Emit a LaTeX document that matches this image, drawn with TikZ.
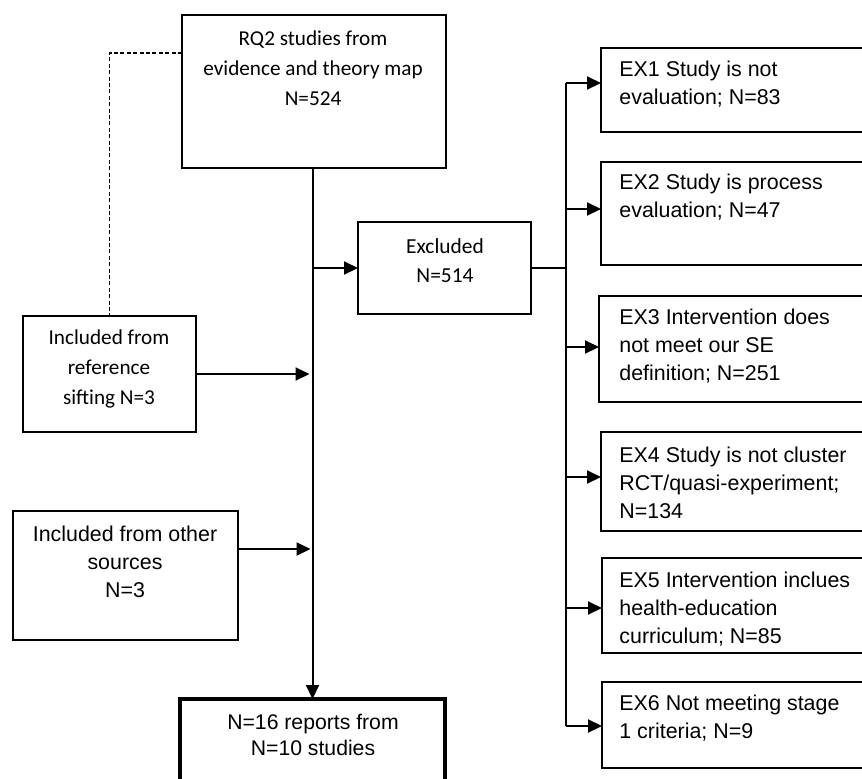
\documentclass[tikz,border=0pt]{standalone}
\usepackage{fontspec}
\newfontfamily\calfont{Carlito}
\newfontfamily\arifont{Liberation Sans}
\usetikzlibrary{arrows.meta,calc}
\begin{document}
\begin{tikzpicture}[x=0.5pt,y=-0.5pt,
  box/.style={draw,line width=0.9pt,inner sep=0pt,outer sep=0pt},
  thickbox/.style={draw,line width=2.4pt,inner sep=0pt,outer sep=0pt},
  caltxt/.style={inner sep=0pt,align=center,font=\calfont\fontsize{10.6}{15}\selectfont},
  aritxt/.style={inner sep=0pt,align=center,font=\arifont\fontsize{10.7}{14}\selectfont},
  extxt/.style={inner sep=0pt,align=left,anchor=west,font=\arifont\fontsize{10.7}{14}\selectfont},
  arr/.style={line width=1pt,-{Triangle[length=7pt,width=6.5pt]}},
  conn/.style={line width=0.8pt}]
\useasboundingbox (0,0) rectangle (862,778);
\fill[white] (0,0) rectangle (862,778);
% boxes
\node[box,minimum width=132pt,minimum height=76.5pt] (rq2) at (314,91.5) {};
\node[box,minimum width=86.5pt,minimum height=46pt] (excl) at (444.5,268) {};
\node[box,minimum width=86.5pt,minimum height=58pt] (sift) at (109.5,374) {};
\node[box,minimum width=112.5pt,minimum height=64.5pt] (other) at (125.5,575.5) {};
\node[thickbox,minimum width=132.5pt,minimum height=45.5pt] (final) at (312.5,744.5) {};
\node[box,minimum width=134.5pt,minimum height=42pt] (ex1) at (735.5,90) {};
\node[box,minimum width=134.5pt,minimum height=51.5pt] (ex2) at (735.5,213.5) {};
\node[box,minimum width=135.5pt,minimum height=53pt] (ex3) at (734.5,349) {};
\node[box,minimum width=134.5pt,minimum height=49.5pt] (ex4) at (735.5,481.5) {};
\node[box,minimum width=134pt,minimum height=47.5pt] (ex5) at (736,605.5) {};
\node[box,minimum width=134pt,minimum height=43pt] (ex6) at (736,725) {};
% texts
\node[caltxt] (rq2t) at (313,68) {RQ2 studies from\\evidence and theory map\\N=524};
\node[caltxt,font=\calfont\fontsize{10.7}{14.5}\selectfont] (exclt) at (445,260.5) {Excluded\\N=514};
\node[caltxt,font=\calfont\fontsize{10.6}{15}\selectfont] (siftt) at (109,369) {Included from\\reference\\sifting N=3};
\node[aritxt] (othert) at (125,562) {Included from other\\sources\\N=3};
\node[aritxt,font=\arifont\fontsize{10.6}{13}\selectfont] (finalt) at (313,735) {N=16 reports from\\N=10 studies};
\node[extxt] (ex1t) at (619,84) {EX1 Study is not\\evaluation; N=83};
\node[extxt] (ex2t) at (619,197) {EX2 Study is process\\evaluation; N=47};
\node[extxt] (ex3t) at (619,346) {EX3 Intervention does\\not meet our SE\\definition; N=251};
\node[extxt] (ex4t) at (619,483) {EX4 Study is not cluster\\RCT/quasi-experiment;\\N=134};
\node[extxt] (ex5t) at (619,609) {EX5 Intervention inclues\\health-education\\curriculum; N=85};
\node[extxt] (ex6t) at (619,718) {EX6 Not meeting stage\\1 criteria; N=9};
% helper coordinates
\coordinate (mx) at (312.5,0);
\coordinate (dy) at (0,53);
\coordinate (oy) at (0,549);
\coordinate (bx) at (566,0);
\coordinate (b1) at (566,83);
\coordinate (b2) at (566,209);
\coordinate (b3) at (566,347);
\coordinate (b4) at (566,477);
\coordinate (b5) at (566,608);
\coordinate (b6) at (566,726);
% connectors
\draw[dashed,line width=0.7pt,dash pattern=on 2pt off 1.2pt] (rq2.west |- dy) -| (sift.north);
\draw[arr] (rq2.south -| mx) -- (final.north -| mx);
\draw[arr] (excl.west -| mx) -- (excl.west);
\draw[arr,shorten >=1.5pt] (sift.east) -- (sift.east -| mx);
\draw[arr,shorten >=1pt] (other.east |- oy) -- (mx |- oy);
\draw[conn] (excl.east) -- (bx |- excl.east);
\draw[conn] (b1) -- (b6);
\draw[arr] (b1) -- (ex1.west |- b1);
\draw[arr] (b2) -- (ex2.west |- b2);
\draw[arr] (b3) -- (ex3.west |- b3);
\draw[arr] (b4) -- (ex4.west |- b4);
\draw[arr] (b5) -- (ex5.west |- b5);
\draw[arr] (b6) -- (ex6.west |- b6);
\end{tikzpicture}
\end{document}
